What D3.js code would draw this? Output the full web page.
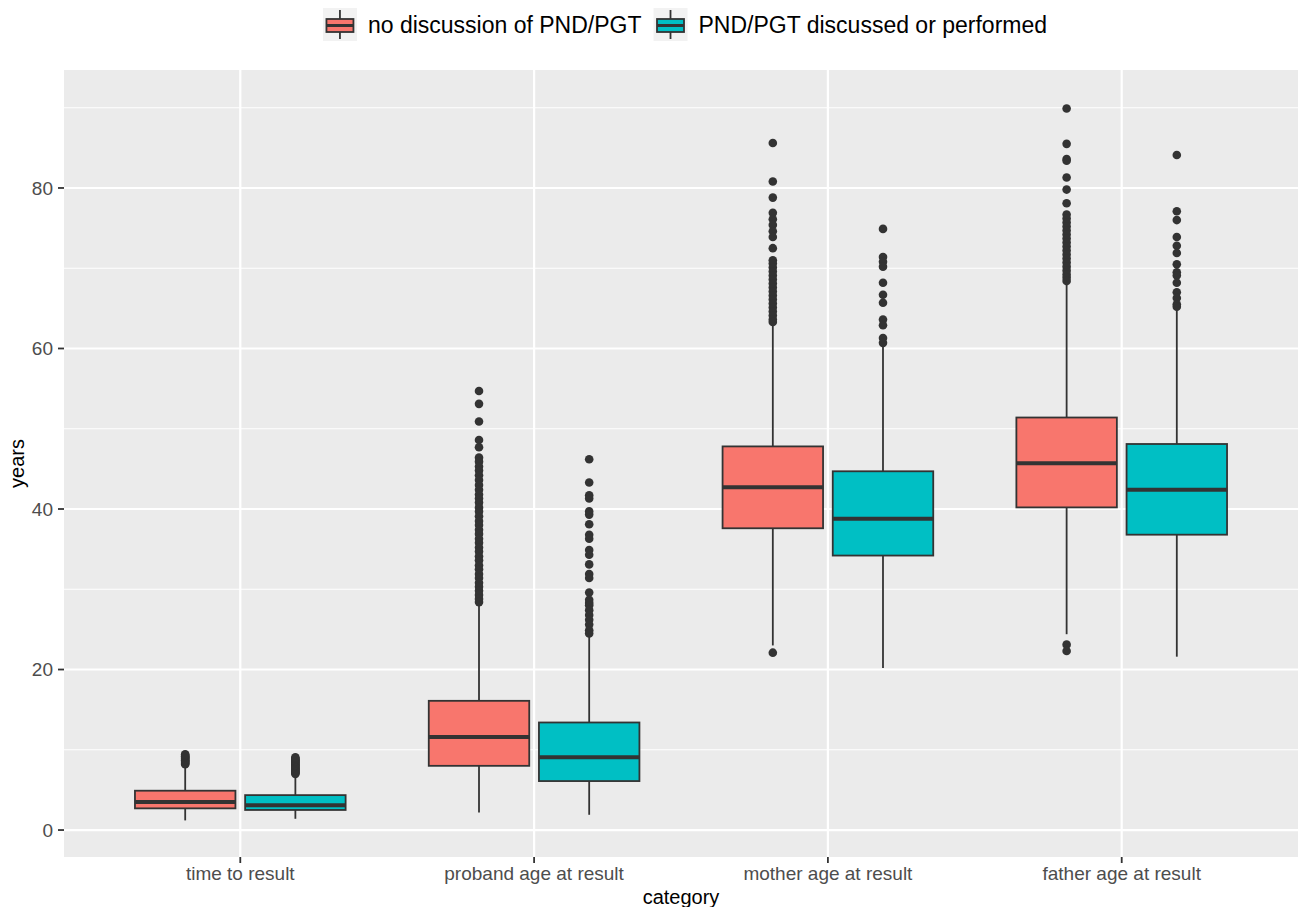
<!DOCTYPE html>
<html>
<head>
<meta charset="utf-8">
<script src="https://cdn.jsdelivr.net/npm/d3@7"></script>
<style>
  html, body { margin: 0; padding: 0; background: #ffffff; }
  svg { display: block; font-family: "Liberation Sans", Arial, Helvetica, sans-serif; }
</style>
</head>
<body>
<svg id="chart" width="1299" height="907"></svg>
<script>
// ---------------- data ----------------
const categories = ["time to result", "proband age at result", "mother age at result", "father age at result"];
const groups = ["no discussion of PND/PGT", "PND/PGT discussed or performed"];
const groupColors = ["#F8766D", "#00BFC4"];
const yTicks = [0, 20, 40, 60, 80];
const yMinor = [10, 30, 50, 70, 90];

// five-number summaries [lower whisker, Q1, median, Q3, upper whisker] per category
const statsNoDiscussion = [
  [1.2, 2.7, 3.5, 4.9, 8.1],
  [2.2, 8.0, 11.6, 16.1, 28.2],
  [23.0, 37.6, 42.7, 47.8, 62.9],
  [24.4, 40.2, 45.7, 51.4, 68.2]
];
const statsDiscussed = [
  [1.4, 2.5, 3.1, 4.35, 6.9],
  [1.9, 6.1, 9.06, 13.4, 24.4],
  [20.2, 34.2, 38.8, 44.7, 60.4],
  [21.6, 36.8, 42.4, 48.1, 64.9]
];

// outliers per category
const outliersNoDiscussion = [
  [8.2, 8.3, 8.4, 8.5, 8.6, 8.7, 8.8, 8.9, 9.0, 9.1, 9.2, 9.3, 9.45],
  [54.7, 53.1, 50.9, 48.6, 47.7, 46.4, 45.9, 45.3, 44.8, 44.2, 43.6, 43.0, 42.4, 41.8, 41.3, 40.8,
   40.2, 39.7, 39.1, 38.5, 38.0, 37.4, 36.9, 36.3, 35.8, 35.2, 34.7, 34.1, 33.6, 33.0, 32.5, 31.9,
   31.4, 30.8, 30.3, 29.8, 29.3, 28.8, 28.4],
  [85.6, 80.8, 78.8, 76.9, 76.1, 75.4, 74.6, 73.9, 72.5, 71.0, 70.6, 70.1, 69.6, 69.1, 68.6, 68.1,
   67.6, 67.1, 66.6, 66.1, 65.6, 65.1, 64.6, 64.1, 63.6, 63.3, 22.1],
  [89.9, 85.5, 83.6, 83.4, 81.3, 79.8, 78.1, 76.7, 76.2, 75.7, 75.2, 74.7, 74.2, 73.7, 73.2, 72.7,
   72.2, 71.7, 71.2, 70.7, 70.2, 69.7, 69.2, 68.8, 68.4, 23.1, 22.3]
];
const outliersDiscussed = [
  [7.0, 7.1, 7.2, 7.3, 7.4, 7.5, 7.6, 7.7, 7.8, 7.9, 8.0, 8.1, 8.2, 8.3, 8.4, 8.5, 8.6, 8.7, 8.8, 8.9, 9.05],
  [46.2, 43.3, 41.7, 41.3, 39.7, 39.3, 38.1, 36.8, 36.3, 34.9, 34.3, 33.1, 31.9, 31.4, 29.6, 28.7,
   28.3, 28.0, 27.4, 26.8, 26.2, 25.6, 24.9, 24.5],
  [74.9, 71.4, 70.8, 70.2, 68.2, 66.7, 65.7, 63.6, 62.9, 61.3, 60.7],
  [84.1, 77.1, 76.0, 73.9, 72.8, 71.9, 70.5, 69.5, 69.1, 68.2, 67.0, 66.3, 65.5, 65.2]
];

// ---------------- layout ----------------
const svg = d3.select("#chart");
const panel = { left: 64, right: 1298, top: 70, bottom: 857 };

const x = d3.scalePoint().domain(categories).range([panel.left, panel.right]).padding(0.6);
const y = d3.scaleLinear().domain([-3.36, 94.7]).range([panel.bottom, panel.top]);
const step = x.step();
const dodge = d3.scaleBand().domain(groups).range([-0.375 * step, 0.375 * step]);
const boxW = 0.342 * step;

// panel background
svg.append("rect")
  .attr("x", panel.left).attr("y", panel.top)
  .attr("width", panel.right - panel.left).attr("height", panel.bottom - panel.top)
  .attr("fill", "#EBEBEB");

// grid
const grid = svg.append("g");
grid.selectAll(".minor").data(yMinor).enter().append("line")
  .attr("x1", panel.left).attr("x2", panel.right)
  .attr("y1", d => y(d)).attr("y2", d => y(d))
  .attr("stroke", "#FFFFFF").attr("stroke-width", 1.1);
grid.selectAll(".major").data(yTicks).enter().append("line")
  .attr("x1", panel.left).attr("x2", panel.right)
  .attr("y1", d => y(d)).attr("y2", d => y(d))
  .attr("stroke", "#FFFFFF").attr("stroke-width", 2.2);
grid.selectAll(".vmajor").data(categories).enter().append("line")
  .attr("x1", d => x(d)).attr("x2", d => x(d))
  .attr("y1", panel.top).attr("y2", panel.bottom)
  .attr("stroke", "#FFFFFF").attr("stroke-width", 2.2);

// boxes
const allStats = [statsNoDiscussion, statsDiscussed];
const allOutliers = [outliersNoDiscussion, outliersDiscussed];
const dark = "#333333";

groups.forEach((g, gi) => {
  const layer = svg.append("g");
  categories.forEach((c, ci) => {
    const s = allStats[gi][ci];
    const cx = x(c) + dodge(g) + dodge.bandwidth() / 2;
    // whiskers
    layer.append("line").attr("x1", cx).attr("x2", cx)
      .attr("y1", y(s[3])).attr("y2", y(s[4]))
      .attr("stroke", dark).attr("stroke-width", 1.8);
    layer.append("line").attr("x1", cx).attr("x2", cx)
      .attr("y1", y(s[1])).attr("y2", y(s[0]))
      .attr("stroke", dark).attr("stroke-width", 1.8);
    // box
    layer.append("rect")
      .attr("x", cx - boxW / 2).attr("width", boxW)
      .attr("y", y(s[3])).attr("height", y(s[1]) - y(s[3]))
      .attr("fill", groupColors[gi]).attr("stroke", dark).attr("stroke-width", 1.8);
    // median
    layer.append("line")
      .attr("x1", cx - boxW / 2).attr("x2", cx + boxW / 2)
      .attr("y1", y(s[2])).attr("y2", y(s[2]))
      .attr("stroke", dark).attr("stroke-width", 4);
    // outliers
    layer.selectAll(null).data(allOutliers[gi][ci]).enter().append("circle")
      .attr("cx", cx).attr("cy", d => y(d)).attr("r", 4.3)
      .attr("fill", dark);
  });
});

// y axis
const yAxis = svg.append("g");
yAxis.selectAll(".tick").data(yTicks).enter().append("line")
  .attr("x1", panel.left - 6).attr("x2", panel.left)
  .attr("y1", d => y(d)).attr("y2", d => y(d))
  .attr("stroke", dark).attr("stroke-width", 1.8);
yAxis.selectAll(".lab").data(yTicks).enter().append("text")
  .attr("x", panel.left - 11).attr("y", d => y(d))
  .attr("dy", "0.36em")
  .attr("text-anchor", "end")
  .attr("font-size", 19).attr("fill", "#4D4D4D")
  .text(d => d);

// x axis
const xAxis = svg.append("g");
xAxis.selectAll(".tick").data(categories).enter().append("line")
  .attr("x1", d => x(d)).attr("x2", d => x(d))
  .attr("y1", panel.bottom).attr("y2", panel.bottom + 6)
  .attr("stroke", dark).attr("stroke-width", 1.8);
xAxis.selectAll(".lab").data(categories).enter().append("text")
  .attr("x", d => x(d)).attr("y", 880)
  .attr("text-anchor", "middle")
  .attr("font-size", 19).attr("fill", "#4D4D4D")
  .text(d => d);

// axis titles
svg.append("text")
  .attr("x", (panel.left + panel.right) / 2).attr("y", 904)
  .attr("text-anchor", "middle").attr("font-size", 20).attr("fill", "#000000")
  .text("category");
svg.append("text")
  .attr("transform", `translate(24, ${(panel.top + panel.bottom) / 2}) rotate(-90)`)
  .attr("text-anchor", "middle").attr("font-size", 20).attr("fill", "#000000")
  .text("years");

// legend
const legend = svg.append("g");
const keyW = 34, keyH = 33, keyTop = 8, gapKT = 11, gapTK = 12;
const items = groups.map((g, i) => {
  const t = legend.append("text").attr("font-size", 23).attr("fill", "#000000")
    .attr("y", 33).text(g);
  return { g, i, t, w: t.node().getComputedTextLength() };
});
const totalW = items.reduce((a, it, i) => a + keyW + gapKT + it.w + (i < items.length - 1 ? gapTK : 0), 0);
let lx = 685 - totalW / 2;
items.forEach(it => {
  const kx = lx;
  const kg = legend.append("g");
  kg.append("rect").attr("x", kx).attr("y", keyTop).attr("width", keyW).attr("height", keyH)
    .attr("fill", "#F2F2F2");
  const kcx = kx + keyW / 2;
  kg.append("line").attr("x1", kcx).attr("x2", kcx).attr("y1", keyTop + 2).attr("y2", keyTop + keyH - 2)
    .attr("stroke", dark).attr("stroke-width", 1.8);
  kg.append("rect").attr("x", kx + 3.5).attr("y", 19).attr("width", keyW - 7).attr("height", 13)
    .attr("fill", groupColors[it.i]).attr("stroke", dark).attr("stroke-width", 1.8);
  kg.append("line").attr("x1", kx + 3.5).attr("x2", kx + keyW - 3.5).attr("y1", 25.5).attr("y2", 25.5)
    .attr("stroke", dark).attr("stroke-width", 3);
  it.t.attr("x", kx + keyW + gapKT);
  lx = kx + keyW + gapKT + it.w + gapTK;
});
</script>
</body>
</html>
